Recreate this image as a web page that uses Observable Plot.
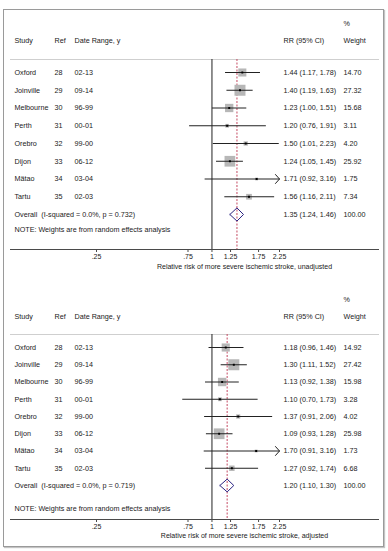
<!DOCTYPE html>
<html>
<head>
<meta charset="utf-8">
<script src="https://cdn.jsdelivr.net/npm/d3@7"></script>
<script src="https://cdn.jsdelivr.net/npm/@observablehq/plot@0.6"></script>
<style>
  body { margin: 0; background: #fff; }
  #page { position: relative; width: 388px; height: 551px; overflow: hidden; background: #fff; }
  #border { position: absolute; left: 3px; top: 9px; width: 379px; height: 536px;
            border: 1px solid #9a9a9a; box-shadow: 1px 1px 1px #c4c4c4; }
  .panel { position: absolute; left: 0; }
  .panel svg { overflow: visible; background: transparent !important; }
</style>
</head>
<body>
<div id="page"><div id="border"></div></div>
<script>
// Studies included in both meta-analyses
const studies = ["Oxford", "Joinville", "Melbourne", "Perth", "Orebro", "Dijon", "Mätao", "Tartu"];
const refs = [28, 29, 30, 31, 32, 33, 34, 35];
const dateRanges = ["02-13", "09-14", "96-99", "00-01", "99-00", "06-12", "03-04", "02-03"];

// Unadjusted relative risks
const unadjRR = [1.44, 1.40, 1.23, 1.20, 1.50, 1.24, 1.71, 1.56];
const unadjLo = [1.17, 1.19, 1.00, 0.76, 1.01, 1.05, 0.92, 1.16];
const unadjHi = [1.78, 1.63, 1.51, 1.91, 2.23, 1.45, 3.16, 2.11];
const unadjWeight = [14.70, 27.32, 15.68, 3.11, 4.20, 25.92, 1.75, 7.34];
const unadjOverall = [1.35, 1.24, 1.46];
const unadjI2 = "0.0%";
const unadjP = "0.732";

// Adjusted relative risks
const adjRR = [1.18, 1.30, 1.13, 1.10, 1.37, 1.09, 1.70, 1.27];
const adjLo = [0.96, 1.11, 0.92, 0.70, 0.91, 0.93, 0.91, 0.92];
const adjHi = [1.46, 1.52, 1.38, 1.73, 2.06, 1.28, 3.16, 1.74];
const adjWeight = [14.92, 27.42, 15.98, 3.28, 4.02, 25.98, 1.73, 6.68];
const adjOverall = [1.20, 1.10, 1.30];
const adjI2 = "0.0%";
const adjP = "0.719";

// Axis
const tickValues = [0.25, 0.75, 1, 1.25, 1.75, 2.25];
const tickLabels = [".25", ".75", "1", "1.25", "1.75", "2.25"];
const axisTitles = [
  "Relative risk of more severe ischemic stroke, unadjusted",
  "Relative risk of more severe ischemic stroke, adjusted"
];
const noteText = "NOTE: Weights are from random effects analysis";

const fmt = v => v.toFixed(2);
const xMin = tickValues[0], xMax = tickValues[tickValues.length - 1];

function forest(cfg) {
  const rows = studies.map((s, i) => ({
    i, study: s, ref: String(refs[i]), range: dateRanges[i],
    rr: cfg.rr[i], lo: cfg.lo[i], hi: cfg.hi[i], w: cfg.w[i],
    ci: `${fmt(cfg.rr[i])} (${fmt(cfg.lo[i])}, ${fmt(cfg.hi[i])})`,
    weight: fmt(cfg.w[i])
  }));
  const oi = studies.length; // overall row index
  const [est, olo, ohi] = cfg.overall;
  const dh = 0.37;
  const diamond = [
    {x: olo, y: oi}, {x: est, y: oi - dh}, {x: ohi, y: oi}, {x: est, y: oi + dh}, {x: olo, y: oi}
  ];
  const overallRow = [{
    label: `Overall  (I-squared = ${cfg.i2}, p = ${cfg.p})`,
    ci: `${fmt(est)} (${fmt(olo)}, ${fmt(ohi)})`,
    weight: fmt(100)
  }];
  const L = cfg.layout;
  const textColor = "#1a1a1a";
  const col = x => x - 10;

  return Plot.plot({
    width: 388,
    height: L.height,
    marginLeft: 10,
    marginRight: 10,
    marginTop: L.sep,
    marginBottom: L.height - L.axis,
    style: {fontFamily: "'Liberation Sans', Arial, sans-serif", fontSize: "7.2px", color: textColor, background: "transparent"},
    x: {type: "log", domain: [xMin, xMax], range: [96, 279]},
    y: {domain: [0, oi], range: [L.row0, L.rowN], axis: null},
    r: {type: "sqrt", domain: [0, 30], range: [0, 6.5]},
    marks: [
      Plot.frame({anchor: "top", stroke: "#cfcfcf"}),
      Plot.frame({anchor: "bottom", stroke: "#4a4a4a"}),
      Plot.ruleX([1], {stroke: "#222"}),
      Plot.ruleX([est], {stroke: "#c44a62", strokeDasharray: "2,1.5"}),
      // weight boxes
      Plot.dot(rows, {x: "rr", y: "i", r: "w", symbol: "square", fill: "#b7b7b7", stroke: null}),
      // confidence intervals
      Plot.link(rows.filter(d => d.hi <= xMax), {x1: "lo", x2: "hi", y1: "i", y2: "i", stroke: "#222", strokeWidth: 1}),
      Plot.arrow(rows.filter(d => d.hi > xMax), {
        x1: "lo", x2: d => Math.min(d.hi, xMax), y1: "i", y2: "i",
        stroke: "#222", strokeWidth: 1, headLength: 9, headAngle: 96
      }),
      // point estimates
      Plot.dot(rows, {x: "rr", y: "i", r: 1.1, symbol: "square", fill: "#000", stroke: null}),
      // pooled estimate
      Plot.line(diamond, {x: "x", y: "y", stroke: "#2a2382", strokeWidth: 1}),
      // header
      Plot.text(["%"], {frameAnchor: "top-left", dx: col(343), dy: L.pct - L.sep, textAnchor: "start", fill: textColor}),
      Plot.text(["Study"], {frameAnchor: "top-left", dx: col(14), dy: L.head - L.sep, textAnchor: "start", fill: textColor}),
      Plot.text(["Ref"], {frameAnchor: "top-left", dx: col(54), dy: L.head - L.sep, textAnchor: "start", fill: textColor}),
      Plot.text(["Date Range, y"], {frameAnchor: "top-left", dx: col(74), dy: L.head - L.sep, textAnchor: "start", fill: textColor}),
      Plot.text(["RR (95% CI)"], {frameAnchor: "top-left", dx: col(283), dy: L.head - L.sep, textAnchor: "start", fill: textColor}),
      Plot.text(["Weight"], {frameAnchor: "top-left", dx: col(343), dy: L.head - L.sep, textAnchor: "start", fill: textColor}),
      // study rows
      Plot.text(rows, {y: "i", text: "study", frameAnchor: "left", dx: col(14), textAnchor: "start", fill: textColor}),
      Plot.text(rows, {y: "i", text: "ref", frameAnchor: "left", dx: col(54), textAnchor: "start", fill: textColor}),
      Plot.text(rows, {y: "i", text: "range", frameAnchor: "left", dx: col(74), textAnchor: "start", fill: textColor}),
      Plot.text(rows, {y: "i", text: "ci", frameAnchor: "left", dx: col(283), textAnchor: "start", fill: textColor}),
      Plot.text(rows, {y: "i", text: "weight", frameAnchor: "left", dx: col(343), textAnchor: "start", fill: textColor}),
      // overall row
      Plot.text(overallRow, {y: () => oi, text: "label", frameAnchor: "left", dx: col(14), textAnchor: "start", fill: textColor}),
      Plot.text(overallRow, {y: () => oi, text: "ci", frameAnchor: "left", dx: col(283), textAnchor: "start", fill: textColor}),
      Plot.text(overallRow, {y: () => oi, text: "weight", frameAnchor: "left", dx: col(343), textAnchor: "start", fill: textColor}),
      // note and axis
      Plot.text([noteText], {frameAnchor: "bottom-left", dx: col(14), dy: L.note - L.axis, textAnchor: "start", fill: textColor}),
      Plot.axisX({
        ticks: tickValues,
        tickFormat: d => tickLabels[tickValues.indexOf(d)],
        tickSize: 3, tickPadding: 1.5, label: null, stroke: "#4a4a4a", fill: textColor, fontSize: 7
      }),
      Plot.text([cfg.title], {frameAnchor: "bottom", dx: 50, dy: L.title - L.axis, fill: textColor, fontSize: 7})
    ]
  });
}

const panels = [
  {
    top: 0,
    rr: unadjRR, lo: unadjLo, hi: unadjHi, w: unadjWeight,
    overall: unadjOverall, i2: unadjI2, p: unadjP, title: axisTitles[0],
    layout: {height: 275, pct: 20, head: 37, sep: 59, row0: 72, rowN: 214, note: 231, axis: 249, title: 268.5}
  },
  {
    top: 275,
    rr: adjRR, lo: adjLo, hi: adjHi, w: adjWeight,
    overall: adjOverall, i2: adjI2, p: adjP, title: axisTitles[1],
    layout: {height: 276, pct: 21, head: 38, sep: 59, row0: 72, rowN: 210, note: 235, axis: 244, title: 262.5}
  }
];

const page = document.getElementById("page");
for (const cfg of panels) {
  const holder = document.createElement("div");
  holder.className = "panel";
  holder.style.top = cfg.top + "px";
  holder.appendChild(forest(cfg));
  page.appendChild(holder);
}
</script>
</body>
</html>
